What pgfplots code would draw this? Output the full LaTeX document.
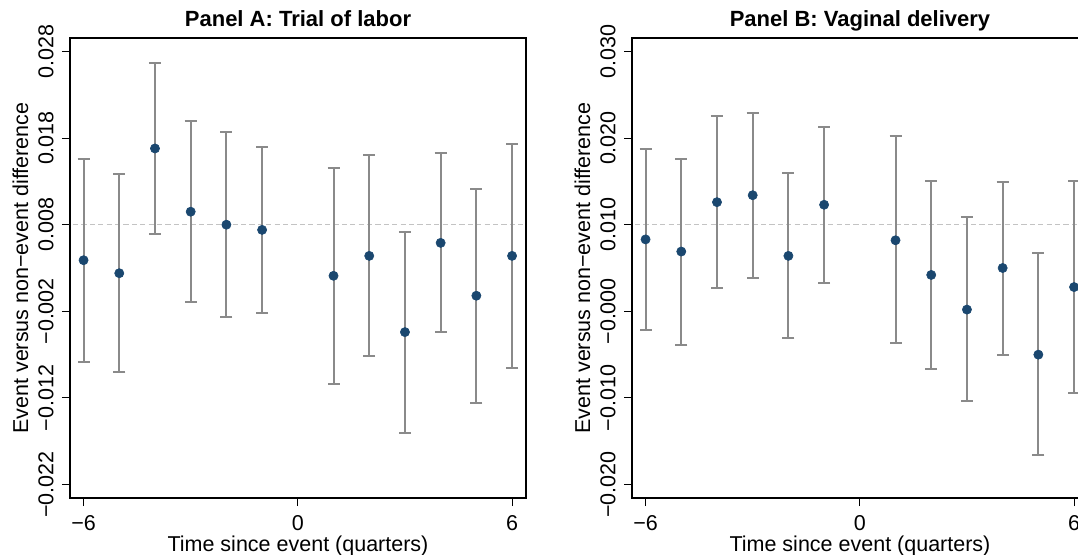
\documentclass[border=0pt]{standalone}
\usepackage{fontspec}
\setmainfont{Liberation Sans}
\usepackage{pgfplots}
\pgfplotsset{compat=1.18}
\usepackage{pgfplotstable}

\definecolor{estblue}{RGB}{26,71,111}
\definecolor{cigray}{RGB}{138,138,138}
\definecolor{refgray}{RGB}{195,195,195}

% Event-study estimates: point estimate b with 95% interval [lo, hi]
\pgfplotstableread{
x   b        lo       hi
-6  0.0039  -0.0078   0.0156
-5  0.0024  -0.0090   0.0139
-4  0.0168   0.0069   0.0267
-3  0.0095  -0.0009   0.0200
-2  0.0080  -0.0027   0.0187
-1  0.0074  -0.0022   0.0170
 1  0.0021  -0.0104   0.0146
 2  0.0044  -0.0072   0.0160
 3 -0.0044  -0.0160   0.0071
 4  0.0059  -0.0044   0.0163
 5 -0.0002  -0.0126   0.0121
 6  0.0044  -0.0085   0.0173
}\trialdata

\pgfplotstableread{
x   b        lo       hi
-6  0.0083  -0.0022   0.0187
-5  0.0069  -0.0039   0.0176
-4  0.0126   0.0027   0.0225
-3  0.0134   0.0039   0.0229
-2  0.0064  -0.0031   0.0160
-1  0.0123   0.0033   0.0213
 1  0.0082  -0.0036   0.0202
 2  0.0042  -0.0067   0.0150
 3  0.0002  -0.0104   0.0109
 4  0.0050  -0.0050   0.0149
 5 -0.0050  -0.0166   0.0067
 6  0.0028  -0.0094   0.0151
}\vaginaldata

\pgfplotsset{
  eventstudy/.style={
    scale only axis, width=228pt, height=230pt,
    anchor=south west,
    xmin=-6.38, xmax=6.39,
    xtick={-6,0,6}, xticklabels={−6,0,6},
    xtick pos=bottom, ytick pos=left,
    scaled y ticks=false,
    tick align=outside, major tick length=4pt,
    tick style={black, line width=0.5pt},
    axis line style={black, line width=0.6pt},
    /pgf/number format/assume math mode=true,
    xticklabel style={anchor=north, inner sep=0pt, yshift=-4.5pt},
    % rotated labels: yshift acts across the text, i.e. away from the axis
    yticklabel style={rotate=90, anchor=south, inner sep=0pt, yshift=4pt},
    every axis title/.style={at={(0.5,1)}, anchor=base, yshift=5.5pt,
      font=\bfseries\fontsize{11}{13}\selectfont},
    every axis y label/.style={at={(axis description cs:-0.0921,0.5)},
      rotate=90, anchor=base},
    every axis x label/.style={at={(axis description cs:0.5,0)},
      anchor=base, yshift=-26.5pt},
    xlabel={Time since event (quarters)},
    ylabel={Event versus non−event difference},
    clip=true,
  },
  ci/.style={
    only marks, mark=*, mark size=2.3pt,
    mark options={fill=estblue, draw=estblue, line width=0.3pt},
    error bars/.cd, y dir=both, y explicit,
    error mark=-,
    error bar style={cigray, line width=1pt},
    error mark options={cigray, line width=1pt, mark size=3pt, rotate=90},
  },
}

\begin{document}
\fontsize{10.75}{13}\selectfont
\begin{tikzpicture}
\useasboundingbox (0,0) rectangle (539pt,277pt);
\clip (0,0) rectangle (539pt,277pt);

% Panel A
\begin{axis}[eventstudy, at={(35pt,28pt)},
  ymin=-0.02355, ymax=0.02955,
  ytick={-0.022,-0.012,-0.002,0.008,0.018,0.028},
  yticklabels={−0.022,−0.012,−0.002,0.008,0.018,0.028},
  title={Panel A: Trial of labor}]
\addplot[refgray, line width=0.6pt, dash pattern=on 2.6pt off 1.6pt, forget plot]
  coordinates {(-7,0.008) (7,0.008)};
\addplot[ci] table[x=x, y=b,
  y error plus expr=\thisrow{hi}-\thisrow{b},
  y error minus expr=\thisrow{b}-\thisrow{lo}] {\trialdata};
\end{axis}

% Panel B
\begin{axis}[eventstudy, at={(316pt,28pt)},
  ymin=-0.02155, ymax=0.03155,
  ytick={-0.020,-0.010,0.000,0.010,0.020,0.030},
  yticklabels={−0.020,−0.010,−0.000,0.010,0.020,0.030},
  title={Panel B: Vaginal delivery}]
\addplot[refgray, line width=0.6pt, dash pattern=on 2.6pt off 1.6pt, forget plot]
  coordinates {(-7,0.010) (7,0.010)};
\addplot[ci] table[x=x, y=b,
  y error plus expr=\thisrow{hi}-\thisrow{b},
  y error minus expr=\thisrow{b}-\thisrow{lo}] {\vaginaldata};
\end{axis}
\end{tikzpicture}
\end{document}
